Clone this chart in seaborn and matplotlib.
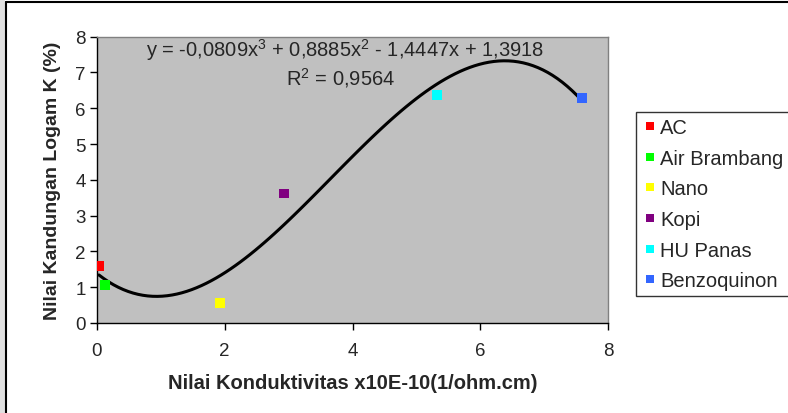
import matplotlib
matplotlib.use("Agg")
import matplotlib.pyplot as plt
import seaborn as sns
import pandas as pd
from matplotlib.patches import Rectangle
from matplotlib.lines import Line2D

samples = ["AC", "Air Brambang", "Nano", "Kopi", "HU Panas", "Benzoquinon"]
conductivity = [0.03, 0.13, 1.93, 2.93, 5.32, 7.59]
potassium = [1.60, 1.07, 0.57, 3.62, 6.38, 6.28]
colors = ["#FF0000", "#00FF00", "#FFFF00", "#800080", "#00FFFF", "#3366FF"]
equation_text = "y = -0,0809x$^3$ + 0,8885x$^2$ - 1,4447x + 1,3918"
r2_text = "R$^2$ = 0,9564"
xticks = [0, 2, 4, 6, 8]
yticks = [0, 1, 2, 3, 4, 5, 6, 7, 8]

df = pd.DataFrame({"sample": samples, "x": conductivity, "y": potassium})

sns.set_style("white")
plt.rcParams["font.family"] = ["Liberation Sans", "DejaVu Sans"]
plt.rcParams["mathtext.fontset"] = "custom"
plt.rcParams["mathtext.rm"] = "Liberation Sans"
plt.rcParams["mathtext.it"] = "Liberation Sans"

fig = plt.figure(figsize=(7.88, 4.14), dpi=100)
# outer chart border
fig.patches.append(Rectangle((0, 0), 5 / 788, 1, transform=fig.transFigure,
                             facecolor="#E0E0E0", edgecolor="none", zorder=0))
fig.lines.append(Line2D([6 / 788, 6 / 788], [0, 1 - 3 / 414], transform=fig.transFigure,
                        color="black", lw=1.5))
fig.lines.append(Line2D([6 / 788, 1], [1 - 3 / 414, 1 - 3 / 414], transform=fig.transFigure,
                        color="black", lw=1.5))

ax = fig.add_axes([97 / 788, 1 - 324 / 414, 511 / 788, (324 - 37.7) / 414])
ax.set_facecolor("#C0C0C0")

sns.regplot(data=df, x="x", y="y", order=3, ci=None, scatter=False, ax=ax,
            line_kws=dict(color="black", lw=2.2, zorder=3))
sns.scatterplot(data=df, x="x", y="y", hue="sample", palette=colors, marker="s",
                s=50, linewidth=0, ax=ax, zorder=4)

ax.set_xlim(0, 8)
ax.set_ylim(0, 8)
ax.set_xticks(xticks)
ax.set_yticks(yticks)
ax.tick_params(axis="both", labelsize=13.5, direction="out", length=5, width=1,
               color="black", pad=3, left=True, bottom=True)
ax.tick_params(axis="x", pad=9)
for s in ["left", "bottom"]:
    ax.spines[s].set_color("black")
    ax.spines[s].set_linewidth(1)
for s in ["top", "right"]:
    ax.spines[s].set_color("#808080")
    ax.spines[s].set_linewidth(1)

ax.set_xlabel("Nilai Konduktivitas x10E-10(1/ohm.cm)", fontsize=14.5, fontweight="bold", labelpad=10)
ax.set_ylabel("Nilai Kandungan Logam K (%)", fontsize=14, fontweight="bold", labelpad=10)

ax.text(0.485, 0.957, equation_text, transform=ax.transAxes, ha="center", va="center", fontsize=14.5)
ax.text(0.476, 0.86, r2_text, transform=ax.transAxes, ha="center", va="center", fontsize=14.5)

handles, labels = ax.get_legend_handles_labels()
leg = ax.legend(handles, labels, loc="upper left", bbox_to_anchor=(636 / 788, 1 - 113 / 414),
                bbox_transform=fig.transFigure, frameon=True, fancybox=False, fontsize=14.5,
                markerscale=0.9, handletextpad=0.1, handlelength=0.8, labelspacing=0.58,
                borderpad=0.3, borderaxespad=0)
leg.get_frame().set_edgecolor("black")
leg.get_frame().set_linewidth(1)

fig.savefig("out.png", dpi=100)
